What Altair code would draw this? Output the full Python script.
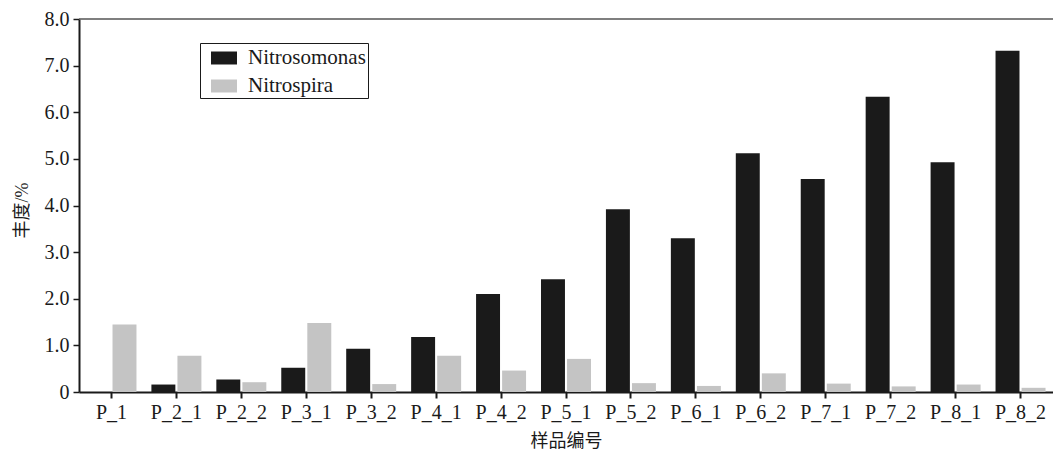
import altair as alt
import pandas as pd

samples = ["P_1", "P_2_1", "P_2_2", "P_3_1", "P_3_2", "P_4_1", "P_4_2", "P_5_1",
           "P_5_2", "P_6_1", "P_6_2", "P_7_1", "P_7_2", "P_8_1", "P_8_2"]
nitrosomonas = [0.0, 0.16, 0.27, 0.52, 0.93, 1.18, 2.10, 2.42, 3.92, 3.30, 5.12, 4.57, 6.33, 4.93, 7.32]
nitrospira = [1.45, 0.78, 0.21, 1.48, 0.17, 0.78, 0.46, 0.71, 0.19, 0.13, 0.40, 0.18, 0.12, 0.16, 0.09]
series = ["Nitrosomonas", "Nitrospira"]
colors = ["#1a1a1a", "#c4c4c4"]

rows = []
for s, a, b in zip(samples, nitrosomonas, nitrospira):
    rows.append({"sample": s, "series": series[0], "value": a})
    rows.append({"sample": s, "series": series[1], "value": b})
df = pd.DataFrame(rows)

FONT = "'Liberation Serif', 'Noto Sans CJK SC', serif"

bars = alt.Chart(df).mark_bar().encode(
    x=alt.X("sample:N", sort=samples, title="样品编号",
            scale=alt.Scale(paddingInner=0.23, paddingOuter=0.115),
            axis=alt.Axis(labelAngle=0, tickSize=6, tickWidth=2, domainWidth=2,
                          domainColor="#1a1a1a", tickColor="#1a1a1a",
                          labelFont=FONT, labelFontSize=20, labelColor="#1a1a1a", labelPadding=4,
                          titleFontSize=18, titleFont=FONT, titleFontWeight="normal",
                          titleColor="#1a1a1a", titlePadding=10)),
    xOffset=alt.XOffset("series:N", sort=series,
                        scale=alt.Scale(paddingInner=0.08)),
    y=alt.Y("value:Q", title="丰度/%",
            scale=alt.Scale(domain=[0, 8], nice=False),
            axis=alt.Axis(values=[0, 1, 2, 3, 4, 5, 6, 7, 8],
                          labelExpr="datum.value == 0 ? '0' : format(datum.value, '.1f')",
                          tickSize=6, tickWidth=1.5, domainWidth=2,
                          domainColor="#1a1a1a", tickColor="#1a1a1a",
                          labelFont=FONT, labelFontSize=20, labelColor="#1a1a1a", labelPadding=4,
                          grid=False,
                          titleFontSize=18, titleFont=FONT, titleFontWeight="normal",
                          titleColor="#1a1a1a", titleAngle=-90,
                          titleX=-57, titleY=191, titleAlign="center",
                          titleBaseline="middle")),
    color=alt.Color("series:N", sort=series,
                    scale=alt.Scale(domain=series, range=colors),
                    legend=alt.Legend(title=None, orient="none", legendX=121, legendY=24,
                                      strokeColor="#1a1a1a", fillColor="white",
                                      padding=2, rowPadding=5, symbolOffset=9,
                                      symbolType="M-1,-0.5H1V0.5H-1Z", symbolSize=676,
                                      symbolStrokeWidth=0, symbolOpacity=1,
                                      labelExpr="datum.label + '\u2003\u2003'",
                                      labelFontSize=21, labelFont=FONT,
                                      labelColor="#1a1a1a", labelOffset=11)),
)

top = alt.Chart(pd.DataFrame({"v": [8]})).mark_rule(color="#555555", strokeWidth=1.5).encode(
    y=alt.Y("v:Q", scale=alt.Scale(domain=[0, 8], nice=False))
)

chart = alt.layer(bars, top).properties(
    width=974, height=373,
    autosize=alt.AutoSizeParams(type="none"),
    padding={"left": 79, "top": 19, "right": 0, "bottom": 65},
).configure(font=FONT, background="white").configure_view(stroke=None)

chart.save("out.html", embed_options={"renderer": "svg", "actions": False})
